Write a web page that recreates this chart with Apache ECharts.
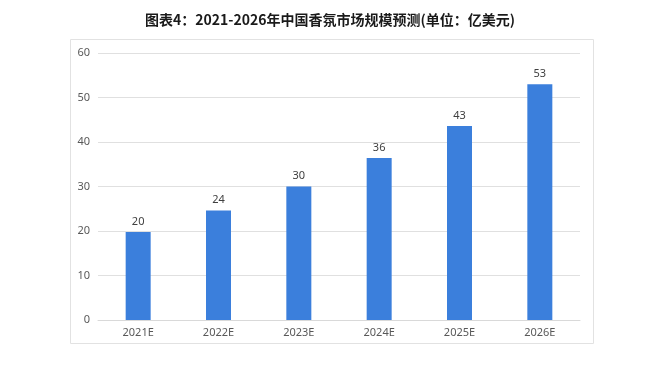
<!DOCTYPE html>
<html><head><meta charset="utf-8">
<script src="https://cdn.jsdelivr.net/npm/echarts@6/dist/echarts.min.js"></script>
<style>html,body{margin:0;padding:0;background:#fff}#c{width:660px;height:383px}</style>
</head><body><div id="c"></div>
<script>
var titleText = '图表4：2021-2026年中国香氛市场规模预测(单位：亿美元)';
var categories = ['2021E','2022E','2023E','2024E','2025E','2026E'];
var values = [19.8, 24.6, 30, 36.4, 43.6, 53];
var valueLabels = ['20','24','30','36','43','53'];
var yTicks = [0, 10, 20, 30, 40, 50, 60];

var chart = echarts.init(document.getElementById('c'));
chart.setOption({
  animation: false,
  backgroundColor: '#fff',
  title: {
    text: titleText, left: 'center', top: 8,
    textStyle: {fontFamily: 'Noto Sans CJK SC', fontSize: 14, fontWeight: 'bold', color: '#1a1a1a'}
  },
  graphic: [{
    type: 'rect', shape: {x: 70.5, y: 39.5, width: 523, height: 304},
    style: {fill: 'none', stroke: '#e2e2e2', lineWidth: 1}, silent: true
  }],
  grid: {left: 98, top: 53, width: 482, height: 267},
  xAxis: {
    type: 'category', data: categories,
    axisLine: {lineStyle: {color: '#d9d9d9'}},
    axisTick: {show: false},
    axisLabel: {color: '#595959', fontSize: 11, margin: 7, fontFamily: 'Noto Sans'}
  },
  yAxis: {
    type: 'value', min: yTicks[0], max: yTicks[yTicks.length-1], interval: yTicks[1]-yTicks[0],
    axisLine: {show: false}, axisTick: {show: false},
    splitLine: {lineStyle: {color: '#e0e0e0'}},
    axisLabel: {color: '#595959', fontSize: 11, margin: 8, fontFamily: 'Noto Sans'}
  },
  series: [{
    type: 'bar', data: values, barWidth: 25,
    itemStyle: {color: '#3b7fdc'},
    label: {show: true, position: 'top', distance: 5, color: '#404040', fontSize: 11, fontFamily: 'Noto Sans',
      formatter: function(p){ return valueLabels[p.dataIndex]; }}
  }]
});
</script></body></html>
